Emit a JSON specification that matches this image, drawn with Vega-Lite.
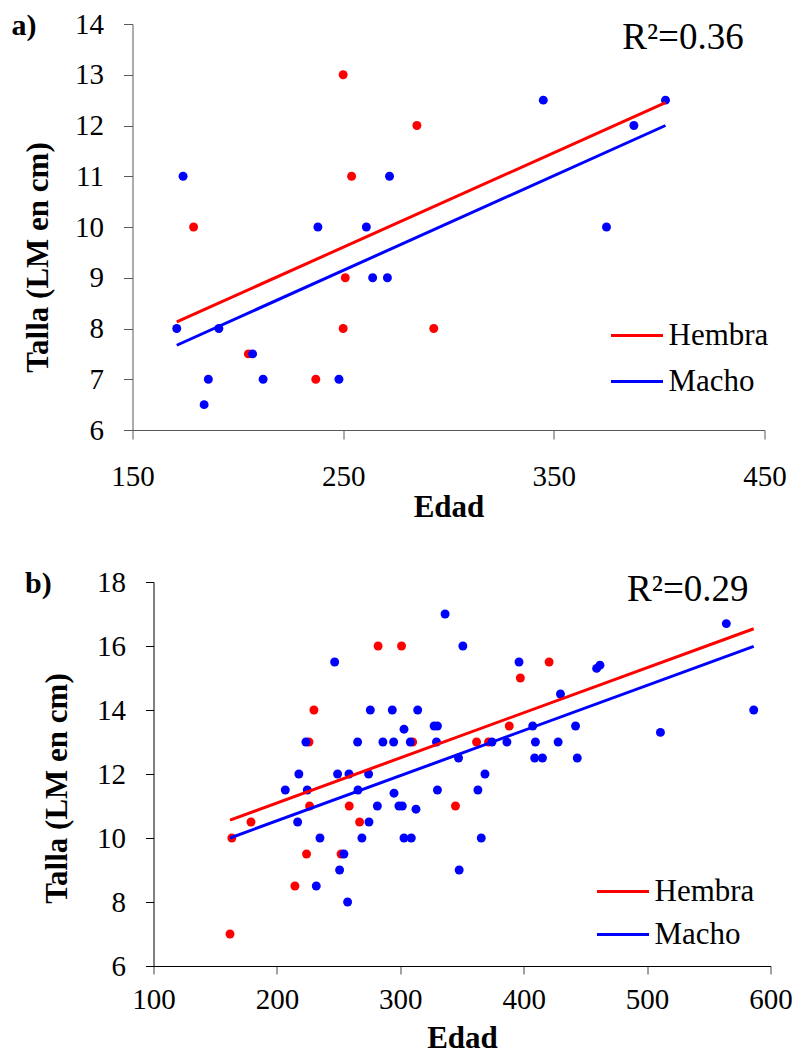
{
  "$schema": "https://vega.github.io/schema/vega-lite/v6.json",
  "background": "white",
  "padding": {"left": 11.5, "top": 10, "right": 0, "bottom": 0},
  "spacing": 46,
  "config": {
    "view": {"stroke": null},
    "axis": {
      "grid": false,
      "labelFont": "Liberation Serif",
      "titleFont": "Liberation Serif",
      "labelColor": "#000000",
      "titleColor": "#000000",
      "labelFontSize": 29,
      "titleFontSize": 31,
      "titleFontWeight": "bold",
      "labelFlush": false,
      "labelOverlap": false,
      "labelBound": false,
      "domainWidth": 1,
      "tickWidth": 1
    }
  },
  "datasets": {
    "puntos_a": [
      {"sexo": "Hembra", "edad": 250, "talla": 13},
      {"sexo": "Hembra", "edad": 285, "talla": 12},
      {"sexo": "Hembra", "edad": 254, "talla": 11},
      {"sexo": "Hembra", "edad": 179, "talla": 10},
      {"sexo": "Hembra", "edad": 251, "talla": 9},
      {"sexo": "Hembra", "edad": 250, "talla": 8},
      {"sexo": "Hembra", "edad": 293, "talla": 8},
      {"sexo": "Hembra", "edad": 205, "talla": 7.5},
      {"sexo": "Hembra", "edad": 237, "talla": 7},
      {"sexo": "Macho", "edad": 174, "talla": 11},
      {"sexo": "Macho", "edad": 272, "talla": 11},
      {"sexo": "Macho", "edad": 238, "talla": 10},
      {"sexo": "Macho", "edad": 261, "talla": 10},
      {"sexo": "Macho", "edad": 264, "talla": 9},
      {"sexo": "Macho", "edad": 271, "talla": 9},
      {"sexo": "Macho", "edad": 171, "talla": 8},
      {"sexo": "Macho", "edad": 191, "talla": 8},
      {"sexo": "Macho", "edad": 207, "talla": 7.5},
      {"sexo": "Macho", "edad": 186, "talla": 7},
      {"sexo": "Macho", "edad": 212, "talla": 7},
      {"sexo": "Macho", "edad": 248, "talla": 7},
      {"sexo": "Macho", "edad": 184, "talla": 6.5},
      {"sexo": "Macho", "edad": 345, "talla": 12.5},
      {"sexo": "Macho", "edad": 403, "talla": 12.5},
      {"sexo": "Macho", "edad": 388, "talla": 12},
      {"sexo": "Macho", "edad": 375, "talla": 10}
    ],
    "rectas_a": [
      {"sexo": "Hembra", "edad": 171, "talla": 8.13},
      {"sexo": "Hembra", "edad": 403, "talla": 12.45},
      {"sexo": "Macho", "edad": 171, "talla": 7.67},
      {"sexo": "Macho", "edad": 403, "talla": 12.0}
    ],
    "puntos_b": [
      {"sexo": "Hembra", "edad": 282, "talla": 16},
      {"sexo": "Hembra", "edad": 230, "talla": 14},
      {"sexo": "Hembra", "edad": 226, "talla": 13},
      {"sexo": "Hembra", "edad": 226.5, "talla": 11},
      {"sexo": "Hembra", "edad": 258.6, "talla": 11},
      {"sexo": "Hembra", "edad": 179, "talla": 10.5},
      {"sexo": "Hembra", "edad": 267, "talla": 10.5},
      {"sexo": "Hembra", "edad": 163.5, "talla": 10},
      {"sexo": "Hembra", "edad": 224, "talla": 9.5},
      {"sexo": "Hembra", "edad": 252, "talla": 9.5},
      {"sexo": "Hembra", "edad": 214.6, "talla": 8.5},
      {"sexo": "Hembra", "edad": 162, "talla": 7},
      {"sexo": "Hembra", "edad": 301, "talla": 16},
      {"sexo": "Hembra", "edad": 420.6, "talla": 15.5},
      {"sexo": "Hembra", "edad": 397.3, "talla": 15},
      {"sexo": "Hembra", "edad": 388.3, "talla": 13.5},
      {"sexo": "Hembra", "edad": 361.8, "talla": 13},
      {"sexo": "Hembra", "edad": 371.5, "talla": 13},
      {"sexo": "Hembra", "edad": 310, "talla": 13},
      {"sexo": "Hembra", "edad": 344.7, "talla": 11},
      {"sexo": "Macho", "edad": 246.8, "talla": 15.5},
      {"sexo": "Macho", "edad": 275.7, "talla": 14},
      {"sexo": "Macho", "edad": 223.5, "talla": 13},
      {"sexo": "Macho", "edad": 265.4, "talla": 13},
      {"sexo": "Macho", "edad": 217.8, "talla": 12},
      {"sexo": "Macho", "edad": 249.2, "talla": 12},
      {"sexo": "Macho", "edad": 258.4, "talla": 12},
      {"sexo": "Macho", "edad": 274.3, "talla": 12},
      {"sexo": "Macho", "edad": 206.8, "talla": 11.5},
      {"sexo": "Macho", "edad": 224.6, "talla": 11.5},
      {"sexo": "Macho", "edad": 265.7, "talla": 11.5},
      {"sexo": "Macho", "edad": 281.4, "talla": 11},
      {"sexo": "Macho", "edad": 216.8, "talla": 10.5},
      {"sexo": "Macho", "edad": 274.6, "talla": 10.5},
      {"sexo": "Macho", "edad": 234.9, "talla": 10},
      {"sexo": "Macho", "edad": 268.9, "talla": 10},
      {"sexo": "Macho", "edad": 254.3, "talla": 9.5},
      {"sexo": "Macho", "edad": 250.8, "talla": 9},
      {"sexo": "Macho", "edad": 231.9, "talla": 8.5},
      {"sexo": "Macho", "edad": 257.3, "talla": 8},
      {"sexo": "Macho", "edad": 336.3, "talla": 17},
      {"sexo": "Macho", "edad": 350.7, "talla": 16},
      {"sexo": "Macho", "edad": 396.2, "talla": 15.5},
      {"sexo": "Macho", "edad": 429.8, "talla": 14.5},
      {"sexo": "Macho", "edad": 293.5, "talla": 14},
      {"sexo": "Macho", "edad": 314.1, "talla": 14},
      {"sexo": "Macho", "edad": 303, "talla": 13.4},
      {"sexo": "Macho", "edad": 327.4, "talla": 13.5},
      {"sexo": "Macho", "edad": 330.1, "talla": 13.5},
      {"sexo": "Macho", "edad": 285.9, "talla": 13},
      {"sexo": "Macho", "edad": 294.6, "talla": 13},
      {"sexo": "Macho", "edad": 308.1, "talla": 13},
      {"sexo": "Macho", "edad": 329.3, "talla": 13},
      {"sexo": "Macho", "edad": 374.3, "talla": 13},
      {"sexo": "Macho", "edad": 386.4, "talla": 13},
      {"sexo": "Macho", "edad": 407.3, "talla": 13.5},
      {"sexo": "Macho", "edad": 409.5, "talla": 13},
      {"sexo": "Macho", "edad": 427.9, "talla": 13},
      {"sexo": "Macho", "edad": 442, "talla": 13.5},
      {"sexo": "Macho", "edad": 347.2, "talla": 12.5},
      {"sexo": "Macho", "edad": 408.9, "talla": 12.5},
      {"sexo": "Macho", "edad": 415.2, "talla": 12.5},
      {"sexo": "Macho", "edad": 443.4, "talla": 12.5},
      {"sexo": "Macho", "edad": 368.6, "talla": 12},
      {"sexo": "Macho", "edad": 294.9, "talla": 11.4},
      {"sexo": "Macho", "edad": 330.1, "talla": 11.5},
      {"sexo": "Macho", "edad": 362.9, "talla": 11.5},
      {"sexo": "Macho", "edad": 298.9, "talla": 11},
      {"sexo": "Macho", "edad": 301.6, "talla": 11},
      {"sexo": "Macho", "edad": 312.7, "talla": 10.9},
      {"sexo": "Macho", "edad": 303, "talla": 10},
      {"sexo": "Macho", "edad": 308.9, "talla": 10},
      {"sexo": "Macho", "edad": 365.6, "talla": 10},
      {"sexo": "Macho", "edad": 347.7, "talla": 9},
      {"sexo": "Macho", "edad": 564.2, "talla": 16.7},
      {"sexo": "Macho", "edad": 459.1, "talla": 15.3},
      {"sexo": "Macho", "edad": 461.8, "talla": 15.4},
      {"sexo": "Macho", "edad": 510.8, "talla": 13.3},
      {"sexo": "Macho", "edad": 586.4, "talla": 14.0}
    ],
    "rectas_b": [
      {"sexo": "Hembra", "edad": 162, "talla": 10.56},
      {"sexo": "Hembra", "edad": 586.4, "talla": 16.54},
      {"sexo": "Macho", "edad": 162, "talla": 10.0},
      {"sexo": "Macho", "edad": 586.4, "talla": 15.99}
    ]
  },
  "vconcat": [
    {
      "width": 632,
      "height": 406,
      "title": {
        "text": "a)",
        "anchor": "start",
        "frame": "bounds",
        "font": "Liberation Serif",
        "fontSize": 30,
        "fontWeight": "bold",
        "color": "#000000",
        "baseline": "alphabetic",
        "offset": 0,
        "dx": -11,
        "dy": 55
      },
      "layer": [
        {
          "data": {"name": "puntos_a"},
          "mark": {"type": "circle", "size": 80, "opacity": 1},
          "encoding": {
            "x": {
              "field": "edad", "type": "quantitative",
              "scale": {"domain": [150, 450], "nice": false, "zero": false},
              "axis": {
                "values": [150, 250, 350, 450],
                "title": "Edad",
                "domainColor": "#595959", "tickColor": "#595959",
                "tickSize": 9, "labelPadding": 23,
                "titleY": 77, "titleBaseline": "middle"
              }
            },
            "y": {
              "field": "talla", "type": "quantitative",
              "scale": {"domain": [6, 14], "nice": false, "zero": false},
              "axis": {
                "values": [6, 7, 8, 9, 10, 11, 12, 13, 14],
                "title": "Talla (LM en cm)",
                "domainColor": "#595959", "tickColor": "#595959",
                "tickSize": 9, "labelPadding": 20,
                "titleAngle": 270, "titleAlign": "center", "titleBaseline": "middle",
                "titleX": -94, "titleY": 233
              }
            },
            "fill": {
              "field": "sexo", "type": "nominal",
              "scale": {"domain": ["Hembra", "Macho"], "range": ["#FF0000", "#0000FF"]},
              "legend": null
            }
          }
        },
        {
          "data": {"name": "rectas_a"},
          "mark": {"type": "line", "strokeWidth": 3},
          "encoding": {
            "x": {"field": "edad", "type": "quantitative"},
            "y": {"field": "talla", "type": "quantitative"},
            "stroke": {
              "field": "sexo", "type": "nominal",
              "scale": {"domain": ["Hembra", "Macho"], "range": ["#FF0000", "#0000FF"]},
              "legend": {
                "orient": "none", "legendX": 477, "legendY": 268,
                "titleOpacity": 0,
                "labelFont": "Liberation Serif", "labelFontSize": 31, "labelColor": "#000000",
                "labelOffset": 4, "rowPadding": 3,
                "symbolType": "stroke", "symbolSize": 2704, "symbolStrokeWidth": 3
              }
            }
          }
        },
        {
          "data": {"values": [{"etiqueta": "R²=0.36"}]},
          "mark": {"type": "text", "font": "Liberation Serif", "fontSize": 37, "align": "left", "baseline": "alphabetic", "color": "#000000"},
          "encoding": {
            "x": {"datum": 382.5, "type": "quantitative"},
            "y": {"datum": 13.5, "type": "quantitative"},
            "text": {"field": "etiqueta"}
          }
        }
      ]
    },
    {
      "width": 638,
      "height": 384,
      "title": {
        "text": "b)",
        "anchor": "start",
        "frame": "bounds",
        "font": "Liberation Serif",
        "fontSize": 30,
        "fontWeight": "bold",
        "color": "#000000",
        "baseline": "alphabetic",
        "offset": 0,
        "dx": -16.5,
        "dy": 55
      },
      "layer": [
        {
          "data": {"name": "puntos_b"},
          "mark": {"type": "circle", "size": 80, "opacity": 1},
          "encoding": {
            "x": {
              "field": "edad", "type": "quantitative",
              "scale": {"domain": [100, 600], "nice": false, "zero": false, "range": [21, 638]},
              "axis": {
                "values": [100, 200, 300, 400, 500, 600],
                "title": "Edad",
                "domainColor": "#000000", "tickColor": "#444444",
                "tickSize": 8, "labelPadding": 11,
                "titleY": 72, "titleBaseline": "middle"
              }
            },
            "y": {
              "field": "talla", "type": "quantitative",
              "scale": {"domain": [6, 18], "nice": false, "zero": false},
              "axis": {
                "values": [6, 8, 10, 12, 14, 16, 18],
                "title": "Talla (LM en cm)",
                "offset": -21,
                "domainColor": "#000000", "tickColor": "#000000",
                "tickSize": 8, "labelPadding": 20,
                "titleAngle": 270, "titleAlign": "center", "titleBaseline": "middle",
                "titleX": -96, "titleY": 206
              }
            },
            "fill": {
              "field": "sexo", "type": "nominal",
              "scale": {"domain": ["Hembra", "Macho"], "range": ["#FF0000", "#0000FF"]},
              "legend": null
            }
          }
        },
        {
          "data": {"name": "rectas_b"},
          "mark": {"type": "line", "strokeWidth": 3},
          "encoding": {
            "x": {"field": "edad", "type": "quantitative"},
            "y": {"field": "talla", "type": "quantitative"},
            "stroke": {
              "field": "sexo", "type": "nominal",
              "scale": {"domain": ["Hembra", "Macho"], "range": ["#FF0000", "#0000FF"]},
              "legend": {
                "orient": "bottom-right",
                "offset": 16,
                "title": null,
                "labelFont": "Liberation Serif", "labelFontSize": 31, "labelColor": "#000000",
                "labelOffset": 4, "rowPadding": -9,
                "symbolType": "stroke", "symbolSize": 2704, "symbolStrokeWidth": 3
              }
            }
          }
        },
        {
          "data": {"values": [{"etiqueta": "R²=0.29"}]},
          "mark": {"type": "text", "font": "Liberation Serif", "fontSize": 37, "align": "left", "baseline": "alphabetic", "color": "#000000"},
          "encoding": {
            "x": {"datum": 483.8, "type": "quantitative"},
            "y": {"datum": 17.4, "type": "quantitative"},
            "text": {"field": "etiqueta"}
          }
        }
      ]
    }
  ]
}
